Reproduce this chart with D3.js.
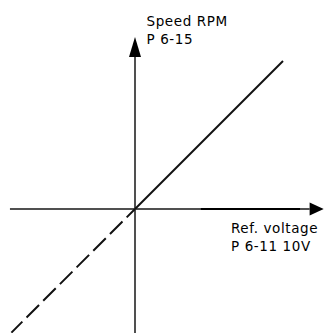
<!DOCTYPE html>
<html>
<head>
<meta charset="utf-8">
<script src="https://cdn.jsdelivr.net/npm/d3@7/dist/d3.min.js"></script>
<style>
  html, body { margin: 0; padding: 0; background: #fff; }
  svg { display: block; }
  text { font-family: "DejaVu Sans", Verdana, sans-serif; font-size: 13.5px; letter-spacing: 0.6px; fill: #000; }
</style>
</head>
<body>
<svg id="chart" width="324" height="333"></svg>
<script>
// Reference voltage (V) against motor speed (normalised to the same scale)
const solidRef   = [0, 10];        // operating range: 0 V .. 10 V
const solidSpeed = [0, 10];
const dashedRef   = [-8.35, 0];    // extrapolated (reverse) region
const dashedSpeed = [-8.35, 0];

const yAxisLabel = ["Speed RPM", "P 6-15"];
const xAxisLabel = ["Ref. voltage", "P 6-11 10V"];

const W = 324, H = 333;
const svg = d3.select("#chart");

// Same pixel-per-unit on both axes so the line runs at 45 degrees
const x = d3.scaleLinear().domain([-9.122, 12.770]).range([0, W]);
const y = d3.scaleLinear().domain([-8.378, 14.122]).range([H, 0]);

const axisColor = "#505050";

// Horizontal axis: grey shaft with a darker span towards the arrow
const hAxis = { from: -8.45, darkFrom: 4.45, darkTo: 11.15, to: 11.8, tip: 12.75 };
svg.append("line")
  .attr("x1", x(hAxis.from)).attr("x2", x(hAxis.to))
  .attr("y1", y(0)).attr("y2", y(0))
  .attr("stroke", axisColor).attr("stroke-width", 2);
svg.append("line")
  .attr("x1", x(hAxis.darkFrom)).attr("x2", x(hAxis.darkTo))
  .attr("y1", y(0)).attr("y2", y(0))
  .attr("stroke", "#000").attr("stroke-width", 2);
svg.append("path")
  .attr("d", `M${x(hAxis.to)},${y(0) - 6.5} L${x(hAxis.tip)},${y(0)} L${x(hAxis.to)},${y(0) + 6.5} Z`)
  .attr("fill", "#000");

// Vertical axis with arrow head
const vAxis = { from: -8.5, to: 10.27, tip: 11.62 };
svg.append("line")
  .attr("x1", x(0)).attr("x2", x(0))
  .attr("y1", y(vAxis.from)).attr("y2", y(vAxis.to))
  .attr("stroke", axisColor).attr("stroke-width", 2);
svg.append("path")
  .attr("d", `M${x(0) - 6},${y(vAxis.to)} L${x(0)},${y(vAxis.tip)} L${x(0) + 6},${y(vAxis.to)} Z`)
  .attr("fill", "#000");

const line = d3.line().x(d => x(d[0])).y(d => y(d[1]));

// Solid characteristic 0..10 V
svg.append("path")
  .datum(d3.zip(solidRef, solidSpeed))
  .attr("d", line)
  .attr("fill", "none").attr("stroke", "#111").attr("stroke-width", 2);

// Dashed extension below zero, drawn outward from the origin
svg.append("path")
  .datum(d3.zip(dashedRef, dashedSpeed).reverse())
  .attr("d", line)
  .attr("fill", "none").attr("stroke", "#111").attr("stroke-width", 2)
  .attr("stroke-dasharray", "17.7,5.9")
  .attr("stroke-dashoffset", 5.9);

// Axis captions
const lineGap = 18;
svg.append("text")
  .attr("x", 146.5).attr("y", 26)
  .selectAll("tspan").data(yAxisLabel).join("tspan")
  .attr("x", 146.5).attr("dy", (d, i) => i ? lineGap : 0)
  .text(d => d);

svg.append("text")
  .attr("x", 231).attr("y", 232.5)
  .selectAll("tspan").data(xAxisLabel).join("tspan")
  .attr("x", 231).attr("dy", (d, i) => i ? lineGap : 0)
  .text(d => d);
</script>
</body>
</html>
